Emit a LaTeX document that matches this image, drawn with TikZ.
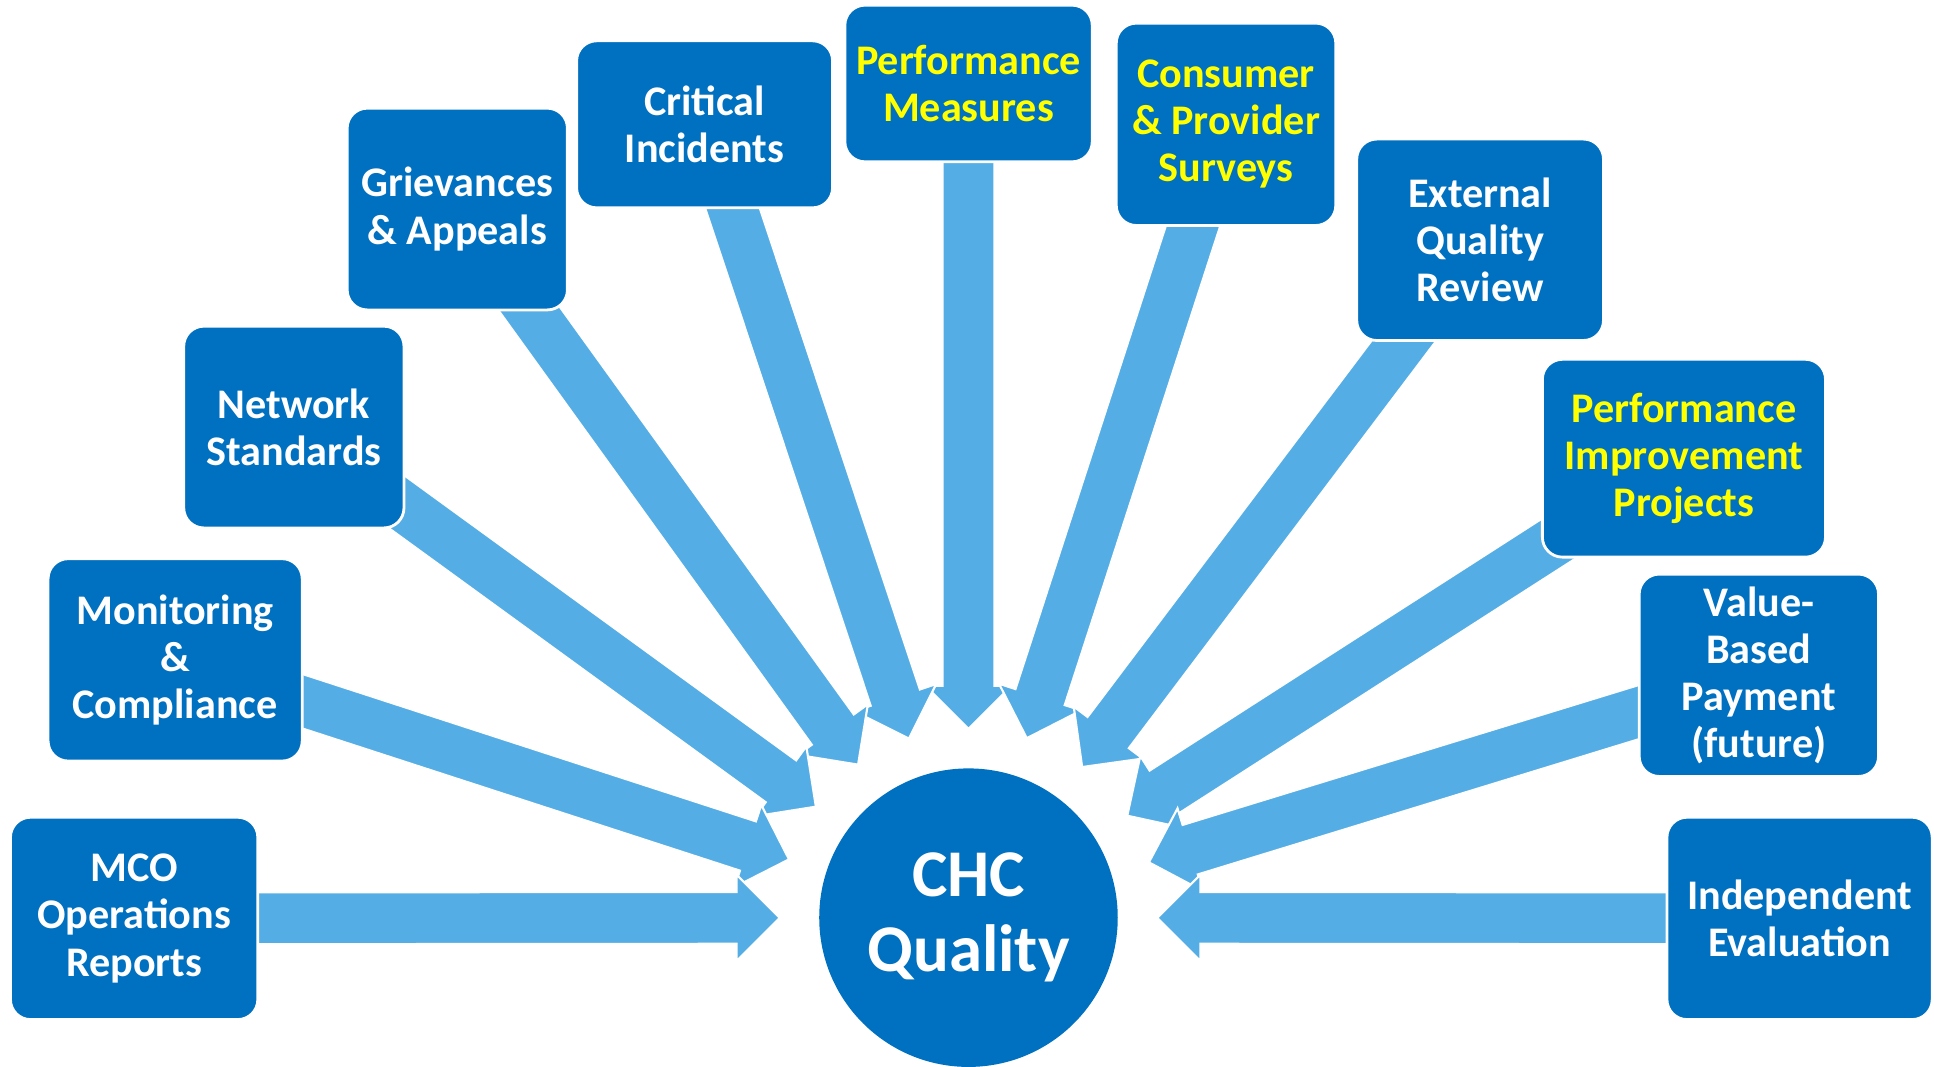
\documentclass[tikz,border=0pt]{standalone}
\usepackage{fontspec}
\setmainfont{Carlito}
\usetikzlibrary{calc}
\definecolor{boxblue}{RGB}{0,112,192}
\definecolor{flowblue}{RGB}{84,174,229}
\definecolor{hiyellow}{RGB}{255,255,0}
\pgfdeclarelayer{bg}
\pgfsetlayers{bg,main}
\tikzset{
  infobox/.style={rounded corners=2mm, fill=boxblue, draw=white, line width=0.8pt,
    text=white, font=\bfseries\fontsize{12}{13.4}\selectfont, align=center, inner sep=0pt},
  hilite/.style={text=hiyellow},
  hub/.style={circle, fill=boxblue, text=white, inner sep=0pt, minimum size=29.85mm,
    font=\bfseries\fontsize{19}{21.3}\selectfont, align=center},
  flow/.style={fill=flowblue, draw=white, line width=0.6pt, line join=miter}
}
\newcommand\flowarrow[1]{%
  \coordinate (#1-tip) at ($(chc.center)!18.87mm!(#1.center)$);
  \coordinate (#1-hb) at ($(chc.center)!23.19mm!(#1.center)$);
  \path[flow] ($(#1.center)!2.59mm!90:(chc.center)$)
    -- ($(#1-hb)!2.59mm!90:(#1-tip)$)
    -- ($(#1-hb)!4.32mm!90:(#1-tip)$)
    -- (#1-tip)
    -- ($(#1-hb)!4.32mm!-90:(#1-tip)$)
    -- ($(#1-hb)!2.59mm!-90:(#1-tip)$)
    -- ($(#1.center)!2.59mm!-90:(chc.center)$) -- cycle;}
\begin{document}
\begin{tikzpicture}[x=0.12334mm, y=-0.12334mm]
\useasboundingbox (0,0) rectangle (1568,865);
% hub
\node[hub] (chc) at (785.2,744) {CHC\\Quality};
% boxes
\node[infobox, minimum width=24.73mm, minimum height=20.23mm] (mco) at (108.75,744.6) {MCO\\Operations\\Reports};
\node[infobox, minimum width=25.41mm, minimum height=20.23mm] (mon) at (142,535) {Monitoring\\\&\\Compliance};
\node[infobox, minimum width=22.02mm, minimum height=20.17mm] (net) at (238.25,346.25) {Network\\Standards};
\node[infobox, minimum width=22.02mm, minimum height=20.17mm] (grv) at (370.75,169.5) {Grievances\\\& Appeals};
\node[infobox, minimum width=25.59mm, minimum height=16.70mm] (crit) at (571.25,100.8) {Critical\\Incidents};
\node[infobox, hilite, minimum width=24.73mm, minimum height=15.66mm] (pm) at (785.25,67.7) {Performance\\Measures};
\node[infobox, hilite, minimum width=21.95mm, minimum height=20.23mm] (cps) at (994,100.8) {Consumer\\\& Provider\\Surveys};
\node[infobox, minimum width=24.67mm, minimum height=20.14mm] (eqr) at (1200,194.4) {External\\Quality\\Review};
\node[infobox, hilite, minimum width=28.31mm, minimum height=19.78mm] (pip) at (1365.25,371.5) {Performance\\Improvement\\Projects};
\node[infobox, minimum width=23.93mm, minimum height=20.23mm] (vbp) at (1426,547.5) {Value-\\Based\\Payment\\(future)};
\node[infobox, minimum width=26.52mm, minimum height=20.23mm] (ie) at (1459,744.6) {Independent\\Evaluation};
% arrows (under boxes), top ones first
\begin{pgfonlayer}{bg}
\flowarrow{pm}
\flowarrow{crit}
\flowarrow{cps}
\flowarrow{grv}
\flowarrow{eqr}
\flowarrow{net}
\flowarrow{pip}
\flowarrow{mon}
\flowarrow{vbp}
\flowarrow{mco}
\flowarrow{ie}
\end{pgfonlayer}
\end{tikzpicture}
\end{document}
